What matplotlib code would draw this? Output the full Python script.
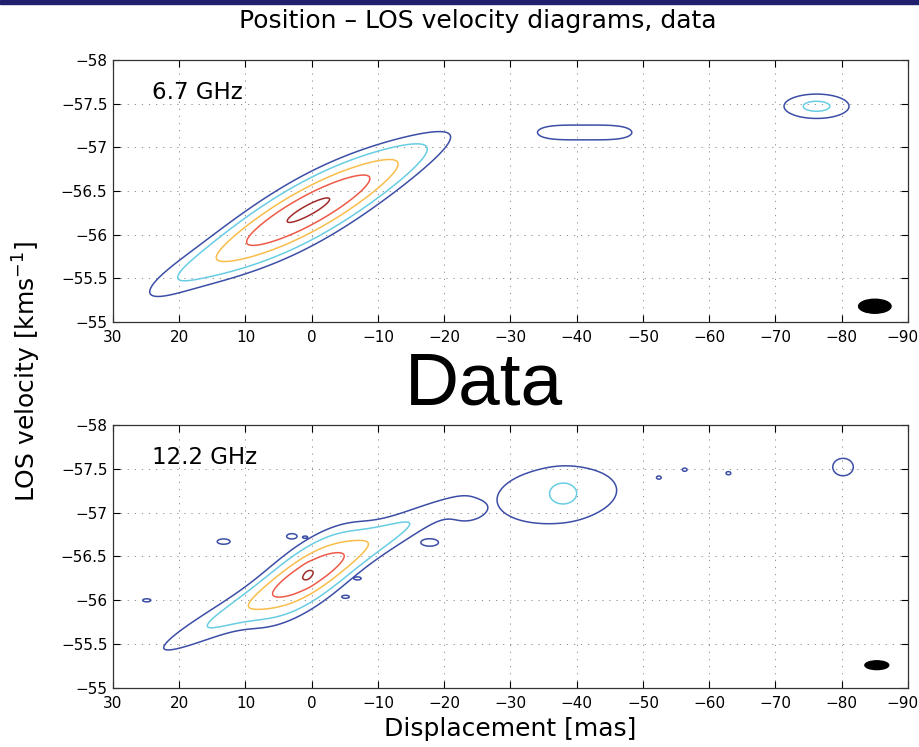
import numpy as np
import matplotlib.pyplot as plt
from matplotlib.patches import Ellipse, Rectangle
from matplotlib.transforms import ScaledTranslation

# contour levels (fraction of peak) and colours, low -> high
levels = [0.1, 0.2, 0.4, 0.65, 0.95]
level_colors = ['#3c4ea6', '#68cde3', '#f8bd4b', '#ef5a48', '#a02c2c']

# emission components:
# centre (mas, km/s), widths, tilt dv/dx, peak, power along x,
# taper length of the velocity width, group
# components of one group are summed, groups are combined with max
NO_TAPER = 1e9
top_x0 = [0.5, 21.0, -41.2, -76.2]
top_v0 = [-56.28, -55.48, -57.17, -57.47]
top_sx = [10.0, 4.5, 7.5, 3.8]
top_sv = [0.2, 0.15, 0.094, 0.108]
top_tilt = [0.039, 0.039, 0.0, 0.0]
top_amp = [1.0, 0.058, 0.15, 0.23]
top_pow = [2, 2, 4, 2]
top_taper = [24.0, NO_TAPER, NO_TAPER, NO_TAPER]
top_group = [0, 0, 1, 2]

bot_x0 = [0.5, 0.5, 0.6, -24.5, -37.0, -38.0, -80.2, 13.3, 24.9, 3.0, 1.0,
          -6.9, -5.1, -17.8, -52.4, -56.3, -62.9]
bot_v0 = [-56.29, -56.29, -56.29, -57.0, -57.2, -57.22, -57.52, -56.67, -56.0,
          -56.73, -56.72, -56.25, -56.04, -56.66, -57.40, -57.49, -57.45]
bot_sx = [5.0, 13.5, 0.6, 3.0, 11.0, 1.8, 1.72, 1.6, 1.4, 1.3, 0.9,
          1.3, 1.3, 2.2, 0.5, 0.5, 0.5]
bot_sv = [0.22, 0.13, 0.08, 0.12, 0.39, 0.11, 0.11, 0.05, 0.04, 0.05, 0.03,
          0.04, 0.04, 0.07, 0.025, 0.025, 0.025]
bot_tilt = [0.045, 0.038, 0.0, 0.02, 0.006, 0.0, 0.0, 0.0, 0.0, 0.0, 0.0,
            0.0, 0.0, 0.0, 0.0, 0.0, 0.0]
bot_amp = [0.56, 0.37, 0.07, 0.12, 0.14, 0.12, 0.15, 0.12, 0.11, 0.12, 0.11,
           0.11, 0.11, 0.12, 0.13, 0.13, 0.13]
bot_pow = [2] * 17
bot_taper = [NO_TAPER] * 17
bot_group = [0, 0, 0, 0, 1, 1, 2, 3, 4, 5, 6, 7, 8, 9, 10, 11, 12]

# restoring beams: centre x, centre v, width, height
top_beam = [-85.0, -55.18, 4.9, 0.16]
bot_beam = [-85.3, -55.26, 3.6, 0.10]

xticks = [30, 20, 10, 0, -10, -20, -30, -40, -50, -60, -70, -80, -90]
xtick_labels = ['30', '20', '10', '0', '\u221210', '\u221220', '\u221230', '\u221240',
                '\u221250', '\u221260', '\u221270', '\u221280', '\u221290']
yticks = [-58, -57.5, -57, -56.5, -56, -55.5, -55]
ytick_labels = ['\u221258', '\u221257.5', '\u221257', '\u221256.5', '\u221256',
                '\u221255.5', '\u221255']


def field(X, V, x0, v0, sx, sv, tilt, amp, pw, taper, group):
    groups = {}
    for i in range(len(x0)):
        dx = X - x0[i]
        dv = (V - v0[i] - tilt[i] * dx) / sv[i] * np.sqrt(1 + (dx / taper[i]) ** 2)
        f = amp[i] * np.exp(-0.5 * np.abs(dx / sx[i]) ** pw[i] - 0.5 * dv ** 2)
        groups[group[i]] = groups.get(group[i], 0) + f
    return np.maximum.reduce(list(groups.values()))


def setup(ax):
    ax.set_xlim(30, -90)
    ax.set_ylim(-55, -58)
    ax.set_xticks(xticks)
    ax.set_xticklabels(xtick_labels)
    ax.set_yticks(yticks)
    ax.set_yticklabels(ytick_labels)
    ax.tick_params(direction='in', top=True, right=True, length=5, width=0.8,
                   labelsize=11)
    ax.tick_params(axis='x', pad=6)
    ax.tick_params(axis='y', pad=4)
    ax.set_axisbelow(True)
    ax.grid(True, color='#808080', lw=0.6, ls=(0, (1.5, 7)))
    for s in ax.spines.values():
        s.set_linewidth(0.9)
        s.set_color('#333333')
    # the last label sits at the figure edge, nudge it left a little
    lab = ax.xaxis.get_major_ticks()[-1].label1
    lab.set_transform(lab.get_transform() + ScaledTranslation(-5 / 100, 0, fig.dpi_scale_trans))


xg = np.linspace(-90, 30, 1201)
vg = np.linspace(-58, -55, 601)
X, V = np.meshgrid(xg, vg)

fig = plt.figure(figsize=(9.2, 7.47), dpi=100)
ax1 = fig.add_axes([0.1228, 0.5690, 0.8641, 0.3507])
ax2 = fig.add_axes([0.1228, 0.0790, 0.8641, 0.3521])

F1 = field(X, V, top_x0, top_v0, top_sx, top_sv, top_tilt, top_amp, top_pow,
           top_taper, top_group)
F2 = field(X, V, bot_x0, bot_v0, bot_sx, bot_sv, bot_tilt, bot_amp, bot_pow,
           bot_taper, bot_group)

for ax, F, beam, label in [(ax1, F1, top_beam, '6.7 GHz'), (ax2, F2, bot_beam, '12.2 GHz')]:
    setup(ax)
    ax.contour(X, V, F, levels=levels, colors=level_colors, linewidths=1.1)
    ax.add_patch(Ellipse((beam[0], beam[1]), beam[2], beam[3], color='black'))
    ax.text(24.1, -57.63, label, fontsize=16.5, ha='left', va='center')

ax2.set_xlabel('Displacement [mas]', fontsize=18, labelpad=4)

fig.text(0.029, 0.503, 'LOS velocity [kms$^{\\mathregular{-1}}$]', fontsize=18,
         rotation=90, ha='center', va='center')
fig.text(0.519, 0.962, 'Position \u2013 LOS velocity diagrams, data', fontsize=18,
         ha='center', va='baseline')
fig.text(0.526, 0.458, 'Data', fontsize=54, family='Liberation Sans',
         ha='center', va='baseline')

fig.patches.append(Rectangle((0, 1 - 3.5 / 747), 1, 3.5 / 747, transform=fig.transFigure,
                             color='#20206e', zorder=5))

fig.savefig('out.png', dpi=100)
